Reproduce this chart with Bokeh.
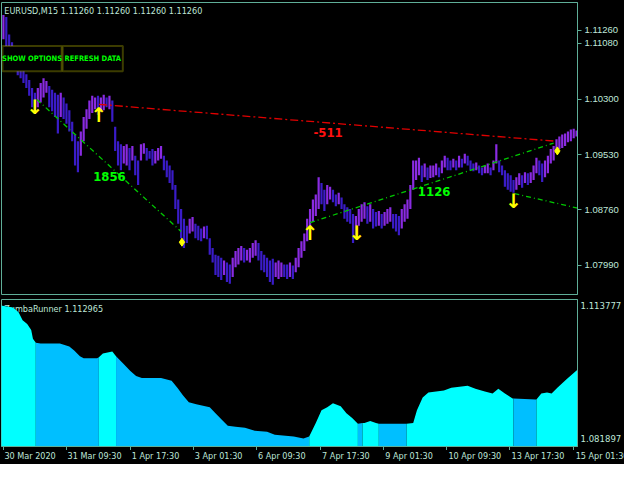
import numpy as np
from bokeh.plotting import figure
from bokeh.layouts import column, row
from bokeh.models import (Range1d, LinearAxis, FixedTicker, PrintfTickFormatter,
                          Label, BoxAnnotation, ColumnDataSource)
from bokeh.core.properties import value
from bokeh.embed import file_html
from bokeh.resources import INLINE

# ---------------- data ----------------
# EURUSD M15 price samples (high / low), one sample per ~6 bars
price_high = [1.11472, 1.11444, 1.11202, 1.11094, 1.10999, 1.10864, 1.10797, 1.10729, 1.10648, 1.10567,
              1.10459, 1.10392, 1.10459, 1.10527, 1.10594, 1.10554, 1.10486, 1.10432, 1.10392, 1.10365,
              1.10392, 1.10324, 1.10243, 1.10149, 1.09987, 1.09811, 1.09717, 1.09852, 1.10054, 1.10162,
              1.10284, 1.10351, 1.10324, 1.10351, 1.10324, 1.10365, 1.10324, 1.10351, 1.10284, 1.09919,
              1.09717, 1.09676, 1.09649, 1.09676, 1.09622, 1.09649, 1.09514, 1.09447, 1.09676, 1.09690,
              1.09622, 1.09582, 1.09609, 1.09582, 1.09622, 1.09649, 1.09514, 1.09447, 1.09379, 1.09312,
              1.09109, 1.08907, 1.08772, 1.08637, 1.08542, 1.08637, 1.08664, 1.08569, 1.08542, 1.08502,
              1.08529, 1.08542, 1.08367, 1.08232, 1.08137, 1.08124, 1.08097, 1.08056, 1.08029, 1.08002,
              1.08097, 1.08191, 1.08232, 1.08259, 1.08232, 1.08205, 1.08232, 1.08299, 1.08340, 1.08299,
              1.08191, 1.08137, 1.08097, 1.08056, 1.08083, 1.08029, 1.08056, 1.08029, 1.08002, 1.08002,
              1.08029, 1.07989, 1.08097, 1.08232, 1.08326, 1.08434, 1.08637, 1.08772, 1.08907, 1.08974,
              1.09217, 1.09136, 1.09042, 1.09109, 1.09082, 1.09042, 1.08974, 1.09001, 1.08934, 1.08839,
              1.08799, 1.08772, 1.08704, 1.08677, 1.08772, 1.08839, 1.08866, 1.08812, 1.08839, 1.08772,
              1.08731, 1.08745, 1.08704, 1.08731, 1.08772, 1.08799, 1.08704, 1.08704, 1.08677, 1.08772,
              1.08839, 1.08907, 1.09109, 1.09447, 1.09447, 1.09487, 1.09379, 1.09406, 1.09352, 1.09379,
              1.09379, 1.09406, 1.09352, 1.09447, 1.09514, 1.09487, 1.09447, 1.09474, 1.09447, 1.09514,
              1.09474, 1.09541, 1.09514, 1.09447, 1.09406, 1.09420, 1.09379, 1.09352, 1.09379, 1.09406,
              1.09352, 1.09447, 1.09676, 1.09447, 1.09379, 1.09312, 1.09271, 1.09244, 1.09177, 1.09217,
              1.09271, 1.09244, 1.09285, 1.09271, 1.09285, 1.09379, 1.09487, 1.09447, 1.09406, 1.09447,
              1.09514, 1.09609, 1.09649, 1.09744, 1.09784, 1.09811, 1.09825, 1.09852, 1.09879, 1.09892,
              1.09865]
price_low = [1.11134, 1.11040, 1.10864, 1.10783, 1.10702, 1.10635, 1.10594, 1.10527, 1.10459, 1.10351,
             1.10189, 1.10095, 1.10189, 1.10257, 1.10324, 1.10392, 1.10189, 1.10135, 1.10054, 1.09825,
             1.10054, 1.10027, 1.09960, 1.09852, 1.09717, 1.09379, 1.09285, 1.09514, 1.09717, 1.09892,
             1.10027, 1.10108, 1.10162, 1.10081, 1.10122, 1.10149, 1.10189, 1.10162, 1.09987, 1.09582,
             1.09379, 1.09312, 1.09406, 1.09379, 1.09312, 1.09447, 1.09244, 1.09109, 1.09447, 1.09541,
             1.09447, 1.09474, 1.09379, 1.09406, 1.09447, 1.09474, 1.09312, 1.09217, 1.09136, 1.09042,
             1.08772, 1.08569, 1.08367, 1.08232, 1.08299, 1.08434, 1.08461, 1.08367, 1.08340, 1.08326,
             1.08367, 1.08353, 1.08137, 1.08029, 1.07854, 1.07827, 1.07786, 1.07854, 1.07759, 1.07732,
             1.07827, 1.07962, 1.08002, 1.08056, 1.08029, 1.08056, 1.08029, 1.08097, 1.08124, 1.08056,
             1.07921, 1.07894, 1.07827, 1.07759, 1.07719, 1.07827, 1.07800, 1.07827, 1.07827, 1.07800,
             1.07827, 1.07800, 1.07894, 1.07962, 1.08097, 1.08191, 1.08326, 1.08502, 1.08596, 1.08677,
             1.08772, 1.08839, 1.08745, 1.08839, 1.08907, 1.08866, 1.08812, 1.08839, 1.08772, 1.08637,
             1.08596, 1.08569, 1.08299, 1.08367, 1.08542, 1.08596, 1.08637, 1.08569, 1.08596, 1.08502,
             1.08529, 1.08542, 1.08502, 1.08542, 1.08569, 1.08596, 1.08502, 1.08461, 1.08407, 1.08502,
             1.08596, 1.08637, 1.08772, 1.09042, 1.09177, 1.09244, 1.09150, 1.09217, 1.09177, 1.09204,
             1.09217, 1.09244, 1.09217, 1.09271, 1.09352, 1.09312, 1.09312, 1.09352, 1.09312, 1.09352,
             1.09352, 1.09406, 1.09379, 1.09312, 1.09298, 1.09312, 1.09271, 1.09244, 1.09271, 1.09271,
             1.09244, 1.09312, 1.09406, 1.09285, 1.09244, 1.09082, 1.09042, 1.09015, 1.09001, 1.09042,
             1.09109, 1.09069, 1.09136, 1.09109, 1.09136, 1.09177, 1.09271, 1.09244, 1.09150, 1.09217,
             1.09271, 1.09406, 1.09447, 1.09555, 1.09609, 1.09622, 1.09649, 1.09703, 1.09717, 1.09757,
             1.09784]

price_ticks = [1.11080, 1.10300, 1.09530, 1.08760, 1.07990]
current_price = 1.11260
symbol_header = "EURUSD,M15  1.11260 1.11260 1.11260 1.11260"

# trend lines drawn by the indicator (position in samples, price)
red_line_x = [33.3, 192.7]
red_line_y = [1.10230, 1.09717]
green_line1_x = [11.7, 62.0]
green_line1_y = [1.10297, 1.08461]
green_line2_x = [107.0, 192.0]
green_line2_y = [1.08583, 1.09690]
green_line3_x = [178.3, 200.5]
green_line3_y = [1.08988, 1.08785]

# pip-distance labels
pip_label_x = [37.0, 150.3]
pip_label_y = [1.09231, 1.09015]
pip_label_text = ["1856", "1126"]
neg_label_x = [113.3]
neg_label_y = [1.09838]
neg_label_text = ["-511"]

# signal arrows
up_arrow_x = [33.3, 107.0]
up_arrow_y = [1.10081, 1.08434]
down_arrow_x = [11.0, 123.3, 178.0]
down_arrow_y = [1.10189, 1.08434, 1.08880]
dot_x = [62.3, 193.3]
dot_y = [1.08312, 1.09582]

# Runner indicator (sub window)
ind_name = "ZumbaRunner 1.112965"
ind_x = [-1, 3.3, 5.3, 6.7, 8.3, 9.7, 10.3, 11.3, 13, 19.7, 23, 24.7, 26.7, 28, 32.7, 33.3,
         34.7, 38, 39.3, 41.7, 44.3, 46.3, 48.3, 55, 58.7, 60.7, 62.7, 64.7, 67.3, 72, 74, 76.3,
         78.3, 81, 84.3, 87.7, 92, 94.7, 101.3, 104.7, 106.7, 109, 111, 113, 115, 117.7, 119.7,
         121.7, 123.7, 125.3, 126, 128, 130, 131, 135.3, 140.7, 143, 144.3, 146.3, 148.3, 153.7,
         156.3, 162, 164.7, 168, 170.7, 172.7, 175, 177.7, 178, 185.7, 186, 187.7, 189.7, 191.3,
         193.3, 196.7, 201]
ind_v = [1.11378, 1.11331, 1.11214, 1.11026, 1.10932, 1.10792, 1.10581, 1.10487, 1.10464, 1.10464,
         1.10393, 1.10300, 1.10159, 1.10112, 1.10112, 1.10135, 1.10229, 1.10276, 1.10159, 1.09995,
         1.09807, 1.09690, 1.09643, 1.09643, 1.09573, 1.09409, 1.09221, 1.09057, 1.09010, 1.08940,
         1.08799, 1.08635, 1.08495, 1.08471, 1.08448, 1.08377, 1.08354, 1.08284, 1.08237, 1.08190,
         1.08237, 1.08565, 1.08870, 1.08940, 1.09034, 1.08963, 1.08799, 1.08682, 1.08542, 1.08565,
         1.08565, 1.08612, 1.08565, 1.08542, 1.08542, 1.08542, 1.08565, 1.08870, 1.09174, 1.09292,
         1.09338, 1.09409, 1.09456, 1.09385, 1.09315, 1.09268, 1.09385, 1.09268, 1.09151, 1.09151,
         1.09127, 1.09127, 1.09268, 1.09292, 1.09268, 1.09409, 1.09620, 1.09880]
ind_ticks = [1.113777, 1.081897]
# trend state zones: start, end, state (1 = up / light, 0 = down / dark)
zone_start = [-1, 11.3, 33.3, 39.3, 106.7, 123.7, 125.3, 131, 140.7, 178, 186]
zone_end = [11.3, 33.3, 39.3, 106.7, 123.7, 125.3, 131, 140.7, 178, 186, 201]
zone_state = [1, 0, 1, 0, 1, 0, 1, 0, 1, 0, 1]

# time axis
time_tick_pos = [0, 22, 44.33, 66.33, 88.33, 110.67, 132.67, 154.67, 176.67, 199]
time_tick_labels = ["30 Mar 2020", "31 Mar 09:30", "1 Apr 17:30", "3 Apr 01:30", "6 Apr 09:30",
                    "7 Apr 17:30", "9 Apr 01:30", "10 Apr 09:30", "13 Apr 17:30", "15 Apr 01:30"]

# ---------------- style ----------------
BG = "#000000"
FG = "#5fae98"
TXT = "#bfe6d8"
NARROW = "Liberation Sans Narrow, DejaVu Sans Condensed, Liberation Sans"
SANS = "Liberation Sans"
LIGHT = "#00ffff"
DARK = "#00bfff"

X0, X1 = -0.67, 200.33
W, RB = 624, 46
xr = Range1d(X0, X1)

p1 = figure(width=W, height=296, x_range=xr, y_range=Range1d(1.07584, 1.11647),
            output_backend="svg", toolbar_location=None,
            x_axis_location=None, y_axis_location=None,
            min_border_left=1, min_border_right=RB, min_border_top=2, min_border_bottom=2,
            background_fill_color=BG, border_fill_color=BG, outline_line_color=FG)
p1.grid.visible = False

ax1 = LinearAxis(ticker=FixedTicker(ticks=price_ticks + [current_price]),
                 formatter=PrintfTickFormatter(format="%.5f"),
                 axis_line_color=FG, major_tick_line_color=FG, major_tick_out=4, major_tick_in=0,
                 minor_tick_line_color=None, major_label_text_color=TXT,
                 major_label_text_font=SANS, major_label_text_font_size="9.5px",
                 major_label_standoff=3)
p1.add_layout(ax1, "right")

ph = np.array(price_high)
pl = np.array(price_low)
bar_idx = np.arange(len(ph))
mid = (ph + pl) / 2
rising = np.r_[True, np.diff(mid) >= 0]
bar_colors = np.where(rising, "#8a2be2", "#3a1cc8")
src = ColumnDataSource(dict(x=bar_idx, lo=pl, hi=ph, c=bar_colors))
p1.segment(x0="x", y0="lo", x1="x", y1="hi", color="c", line_width=2.2, source=src)

p1.line(red_line_x, red_line_y, line_color="#e00000", line_width=1.3, line_dash="8 3 2 3")
for lx, ly in ((green_line1_x, green_line1_y), (green_line2_x, green_line2_y),
               (green_line3_x, green_line3_y)):
    p1.line(lx, ly, line_color="#00c800", line_width=1.3, line_dash="5 3 1 3")

p1.text(x=pip_label_x, y=pip_label_y, text=pip_label_text, text_color="#00ff00",
        text_font=value(NARROW), text_font_style="bold", text_font_size="13px",
        text_align="center", text_baseline="middle")
p1.text(x=neg_label_x, y=neg_label_y, text=neg_label_text, text_color="#ff1010",
        text_font=value(NARROW), text_font_style="bold", text_font_size="13px",
        text_align="center", text_baseline="middle")

p1.text(x=up_arrow_x, y=up_arrow_y, text=["↑"] * len(up_arrow_x), text_color="#ffff00",
        text_font=value("DejaVu Sans"), text_font_style="bold", text_font_size="20px",
        text_align="center", text_baseline="middle")
p1.text(x=down_arrow_x, y=down_arrow_y, text=["↓"] * len(down_arrow_x), text_color="#ffff00",
        text_font=value("DejaVu Sans"), text_font_style="bold", text_font_size="20px",
        text_align="center", text_baseline="middle")
p1.scatter(dot_x, dot_y, marker="diamond", size=8, color="#ffff00")

# option buttons
for left, right, label in ((-0.33, 20.33, "SHOW OPTIONS"), (20.67, 41.67, "REFRESH DATA")):
    p1.add_layout(BoxAnnotation(left=left, right=right, top=1.11040, bottom=1.10689,
                                fill_color="black", fill_alpha=1.0,
                                line_color="#c8c800", line_width=2))
    p1.add_layout(Label(x=(left + right) / 2, y=1.10864, text=label, text_color="#00ff00",
                        text_font=NARROW, text_font_style="bold", text_font_size="7.5px",
                        text_align="center", text_baseline="middle"))

p1.add_layout(Label(x=0.3, y=1.11525, text=symbol_header, text_color=TXT,
                    text_font=NARROW, text_font_size="9px", text_baseline="middle"))

# ---------------- indicator window ----------------
p2 = figure(width=W, height=154, x_range=xr, y_range=Range1d(1.0800, 1.1152),
            output_backend="svg", toolbar_location=None,
            x_axis_location=None, y_axis_location=None,
            min_border_left=1, min_border_right=RB, min_border_top=3, min_border_bottom=0,
            background_fill_color=BG, border_fill_color=BG, outline_line_color=FG)
p2.grid.visible = False

p2.text(x=[0.3], y=[1.11284], text=[ind_name], text_color=TXT, text_font=value(NARROW),
        text_font_size="9px", text_baseline="middle")

ix = np.array(ind_x)
iv = np.array(ind_v)
for s, e, st in zip(zone_start, zone_end, zone_state):
    m = (ix >= s - 1e-9) & (ix <= e + 1e-9)
    p2.varea(x=ix[m], y1=np.full(m.sum(), 1.0800), y2=iv[m],
             fill_color=LIGHT if st else DARK)

ax2 = LinearAxis(ticker=FixedTicker(ticks=ind_ticks), formatter=PrintfTickFormatter(format="%.6f"),
                 axis_line_color=FG, major_tick_line_color=None, major_tick_out=0, major_tick_in=0,
                 minor_tick_line_color=None, major_label_text_color=TXT,
                 major_label_text_font=NARROW, major_label_text_font_size="9.5px",
                 major_label_standoff=3)
p2.add_layout(ax2, "right")

ax3 = LinearAxis(ticker=FixedTicker(ticks=time_tick_pos), axis_line_color=FG,
                 major_tick_line_color=FG, major_tick_out=4, major_tick_in=0,
                 minor_tick_line_color=None, major_label_text_color=None,
                 major_label_text_font_size="1px", major_label_standoff=0)
p2.add_layout(ax3, "below")

# time labels: a strip the full width of the window, aligned on the same time scale
px_per_unit = (W - 1 - RB) / (X1 - X0)
p3 = figure(width=W, height=14, x_range=Range1d(X0, X0 + (W - 1) / px_per_unit),
            y_range=Range1d(0, 1), output_backend="svg", toolbar_location=None,
            x_axis_location=None, y_axis_location=None,
            min_border_left=1, min_border_right=0, min_border_top=0, min_border_bottom=0,
            background_fill_color=BG, border_fill_color=BG, outline_line_color=None)
p3.grid.visible = False
p3.text(x=time_tick_pos, y=[0.97] * len(time_tick_pos), text=time_tick_labels, text_color=TXT,
        text_font=value(NARROW), text_font_size="9px", text_align="left", text_baseline="top",
        x_offset=1)

layout = column(p1, p2, row(p3, spacing=0), spacing=0, styles={"background-color": "black"})
open("out.html", "w").write(file_html(layout, INLINE))
